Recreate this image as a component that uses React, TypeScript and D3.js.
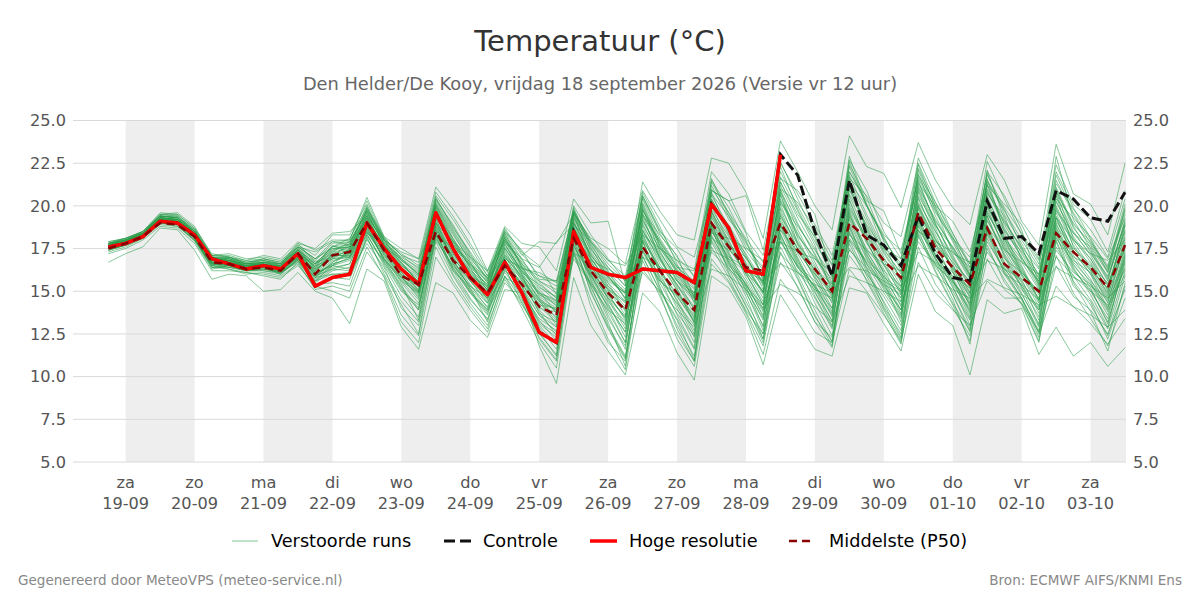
import React from "react";
import * as d3 from "d3";

// temperature forecast: 6-hourly steps starting 18 Sep 18 UTC
const W = 1200;
const H = 600;
const M = { top: 120.5, right: 1126, bottom: 462, left: 73 };

const START = Date.UTC(2026, 8, 18, 18);
const STEP_HOURS = 6;

const DAY_NAMES = ["za", "zo", "ma", "di", "wo", "do", "vr", "za", "zo", "ma", "di", "wo", "do", "vr", "za"];
const DAY_LABELS = ["19-09", "20-09", "21-09", "22-09", "23-09", "24-09", "25-09", "26-09", "27-09", "28-09", "29-09", "30-09", "01-10", "02-10", "03-10"];
const WEEKEND_LIKE_BANDS = [0, 2, 4, 6, 8, 10, 12, 14]; // index into the day list
const Y_TICKS = [5, 7.5, 10, 12.5, 15, 17.5, 20, 22.5, 25];

const hiRes = [
  17.6, 17.8, 18.2, 19.1, 19.0, 18.3, 16.9, 16.6, 16.3, 16.5, 16.3, 17.2, 15.3, 15.8, 16.0,
  19.0, 17.5, 16.3, 15.4, 19.6, 17.5, 15.8, 14.8, 16.7, 14.9, 12.6, 12.0, 18.5, 16.4, 16.0,
  15.8, 16.3, 16.2, 16.1, 15.5, 20.1, 18.7, 16.2, 16.0, 23.0,
];
const control = [
  17.6, 17.8, 18.2, 19.1, 19.0, 18.3, 16.9, 16.6, 16.3, 16.5, 16.3, 17.2, 15.3, 15.8, 16.0,
  19.0, 17.5, 16.3, 15.4, 19.6, 17.5, 15.8, 14.8, 16.7, 14.9, 12.6, 12.0, 18.5, 16.4, 16.0,
  15.8, 16.3, 16.2, 16.1, 15.5, 20.1, 18.7, 16.2, 16.0, 23.0,
  21.8, 18.5, 15.9, 21.5, 18.3, 17.7, 16.5, 19.4, 17.2, 15.8, 15.6, 20.3, 18.1, 18.2, 17.2,
  20.9, 20.4, 19.3, 19.1, 20.8,
];
const p50 = [
  17.5, 17.8, 18.2, 19.0, 18.9, 18.2, 16.7, 16.6, 16.3, 16.4, 16.2, 17.2, 16.0, 17.1, 17.3,
  19.0, 17.4, 15.9, 15.4, 18.5, 16.8, 15.8, 14.9, 16.5, 15.4, 14.1, 13.6, 18.1, 16.2, 14.9,
  13.9, 17.6, 16.2, 14.9, 13.9, 19.0, 17.6, 16.4, 16.2, 19.0,
  17.4, 16.3, 15.0, 19.0, 18.1, 16.8, 15.8, 19.6, 17.5, 16.4, 15.4, 18.7, 16.6, 15.8, 15.0,
  18.4, 17.3, 16.4, 15.2, 17.7,
];

const members: number[][] = [
  [17.9, 18.1, 18.5, 19.5, 19.6, 18.8, 17.1, 17.2, 16.9, 17.0, 16.8, 17.6, 17.3, 17.9, 18.0, 20.5, 18.2, 17.5, 16.9, 21.1, 19.8, 18.3, 16.2, 18.8, 17.8, 17.6, 16.2, 20.4, 19.0, 19.1, 15.4, 21.4, 19.7, 18.3, 18.0, 22.8, 22.5, 20.8, 18.1, 23.8, 22.0, 20.0, 18.6, 24.1, 22.3, 21.9, 19.9, 23.7, 21.5, 19.9, 18.9, 23.0, 21.5, 19.1, 17.7, 23.6, 20.7, 20.1, 18.3, 22.5],
  [16.7, 17.2, 17.6, 18.7, 18.6, 17.4, 15.7, 16.0, 15.9, 15.0, 15.1, 16.1, 15.0, 14.6, 13.1, 16.3, 15.6, 12.9, 11.6, 15.5, 14.9, 13.3, 12.3, 15.1, 14.9, 11.8, 9.6, 15.8, 13.0, 11.5, 10.1, 14.9, 13.8, 11.4, 9.8, 15.9, 15.2, 13.5, 10.7, 14.8, 13.2, 11.6, 11.2, 15.2, 14.9, 13.1, 11.5, 16.0, 13.8, 13.0, 10.1, 14.5, 13.7, 14.0, 11.3, 12.9, 11.2, 12.0, 10.6, 11.7],
  [17.8, 18.0, 18.4, 19.4, 19.3, 18.5, 17.0, 16.9, 16.6, 16.7, 16.4, 17.5, 16.6, 17.6, 17.7, 19.8, 17.9, 16.8, 16.0, 20.3, 18.6, 17.0, 15.6, 18.2, 16.5, 14.8, 14.2, 19.9, 17.5, 16.0, 14.9, 20.5, 18.4, 16.8, 15.4, 21.0, 19.6, 17.6, 16.4, 22.0, 20.0, 18.1, 15.8, 22.7, 20.9, 18.5, 16.9, 22.2, 20.0, 18.0, 16.2, 21.9, 19.5, 17.8, 15.9, 21.8, 19.6, 18.0, 16.1, 19.8],
  [17.7, 18.0, 18.3, 19.3, 19.2, 18.4, 16.9, 16.8, 16.5, 16.6, 16.3, 17.3, 15.9, 16.7, 17.2, 19.4, 17.5, 15.9, 14.6, 19.7, 17.6, 16.1, 14.9, 17.6, 15.9, 13.7, 13.2, 19.2, 16.6, 14.5, 12.8, 19.3, 17.0, 15.2, 13.1, 20.2, 18.3, 16.1, 14.2, 20.4, 18.4, 16.5, 14.6, 21.0, 18.8, 17.0, 15.3, 21.4, 19.0, 16.8, 14.9, 20.6, 18.2, 16.5, 14.5, 20.3, 18.2, 16.9, 15.0, 18.4],
  [17.5, 17.8, 18.2, 19.1, 19.0, 18.1, 16.5, 16.4, 16.2, 16.2, 16.0, 16.9, 15.5, 16.2, 16.4, 18.6, 16.9, 15.2, 13.9, 18.9, 16.9, 15.1, 13.9, 16.9, 15.2, 12.9, 11.6, 18.4, 15.7, 13.6, 11.6, 18.4, 16.1, 14.0, 12.0, 19.1, 17.2, 15.0, 12.7, 19.0, 16.9, 14.7, 12.9, 19.5, 17.2, 15.2, 13.6, 20.0, 17.8, 15.6, 13.5, 19.4, 17.0, 15.2, 13.0, 19.0, 16.6, 15.2, 13.1, 16.8],
  [17.6, 17.9, 18.4, 19.2, 19.1, 18.2, 16.7, 16.7, 16.4, 16.5, 16.5, 17.1, 16.2, 17.2, 17.4, 19.2, 17.6, 16.2, 15.2, 19.2, 17.2, 15.7, 14.6, 17.2, 15.6, 14.1, 13.2, 18.7, 16.3, 14.8, 13.4, 18.8, 16.6, 15.1, 13.4, 19.4, 17.6, 16.0, 14.2, 19.8, 17.4, 15.9, 14.0, 20.1, 17.8, 16.3, 14.4, 20.5, 18.1, 16.4, 14.3, 19.7, 17.6, 15.9, 14.1, 19.6, 17.3, 16.0, 14.0, 17.5],
  [17.4, 17.7, 18.1, 18.9, 18.8, 18.0, 16.4, 16.3, 16.0, 16.1, 15.9, 16.6, 15.2, 15.8, 15.7, 18.1, 16.2, 14.4, 13.2, 18.2, 16.2, 14.6, 13.3, 16.3, 14.6, 12.3, 11.0, 17.8, 15.0, 12.8, 11.0, 17.7, 15.2, 13.0, 11.2, 18.3, 16.3, 14.4, 12.5, 18.4, 16.0, 13.9, 12.0, 18.7, 16.4, 14.3, 12.3, 19.2, 16.8, 14.8, 12.6, 18.3, 16.2, 14.6, 12.6, 18.0, 15.6, 14.2, 12.4, 15.9],
  [17.8, 18.1, 18.5, 19.5, 19.4, 18.6, 17.1, 17.0, 16.7, 16.8, 16.6, 17.7, 17.1, 18.3, 18.3, 20.1, 18.0, 17.2, 16.5, 20.6, 19.2, 17.6, 15.9, 18.5, 17.1, 17.9, 17.8, 19.5, 18.1, 17.5, 16.6, 20.9, 19.2, 17.6, 17.0, 20.9, 20.3, 20.6, 17.4, 22.5, 20.7, 18.9, 17.1, 22.0, 20.3, 19.7, 17.2, 21.3, 20.0, 19.1, 17.3, 21.2, 20.1, 18.9, 16.9, 22.4, 20.1, 19.2, 17.3, 20.9],
  [17.6, 17.9, 18.3, 19.2, 19.1, 18.3, 16.8, 16.7, 16.4, 16.4, 16.2, 17.2, 16.1, 16.9, 17.0, 18.9, 17.1, 15.6, 14.5, 18.6, 16.8, 15.4, 14.0, 16.6, 14.9, 13.4, 12.7, 17.9, 15.9, 14.3, 12.3, 18.1, 16.2, 14.5, 12.7, 18.8, 16.9, 15.4, 13.6, 18.9, 16.7, 15.2, 13.2, 18.4, 16.6, 14.9, 13.4, 19.0, 16.9, 15.3, 13.0, 18.9, 16.6, 14.9, 12.9, 18.5, 16.3, 15.0, 13.4, 17.1],
  [17.7, 18.0, 18.4, 19.4, 19.3, 18.5, 16.8, 16.9, 16.5, 16.7, 16.5, 17.6, 16.9, 17.5, 17.6, 19.6, 17.7, 16.5, 15.7, 20.0, 18.0, 16.5, 15.3, 18.0, 16.1, 14.5, 13.9, 19.5, 17.0, 15.3, 14.3, 19.8, 17.8, 16.0, 14.6, 20.6, 18.8, 16.9, 15.4, 21.2, 19.0, 17.1, 15.4, 21.8, 19.5, 17.5, 16.0, 21.9, 19.4, 17.4, 15.7, 21.2, 18.9, 17.2, 15.5, 21.0, 18.8, 17.3, 15.6, 19.2],
  [17.2, 17.5, 18.0, 18.8, 18.7, 17.8, 16.2, 16.2, 16.1, 16.0, 15.8, 16.5, 15.3, 15.0, 14.6, 17.3, 15.9, 13.6, 12.4, 17.6, 15.6, 14.1, 12.8, 15.9, 14.0, 12.0, 10.5, 17.2, 14.5, 12.2, 10.4, 16.8, 14.7, 12.5, 10.9, 17.6, 15.8, 13.8, 11.8, 17.3, 15.2, 13.2, 11.7, 17.8, 15.6, 13.7, 11.9, 18.3, 16.1, 14.2, 12.1, 17.7, 15.5, 14.3, 12.1, 17.1, 14.9, 13.4, 11.8, 14.6],
  [17.8, 18.0, 18.5, 19.4, 19.4, 18.6, 17.0, 17.0, 16.7, 16.9, 16.7, 17.4, 16.6, 17.3, 17.5, 19.9, 18.0, 16.9, 16.2, 20.0, 18.3, 16.8, 15.5, 17.9, 16.6, 15.2, 14.7, 19.0, 17.2, 15.7, 14.9, 19.1, 17.5, 16.2, 14.8, 19.8, 18.2, 16.7, 15.6, 19.4, 17.8, 16.4, 15.0, 19.9, 18.2, 16.9, 15.6, 20.2, 18.5, 16.9, 15.5, 20.0, 18.0, 16.7, 15.1, 20.0, 18.0, 16.9, 15.4, 18.2],
  [17.5, 17.7, 18.2, 19.0, 18.9, 18.0, 16.6, 16.5, 16.2, 16.3, 16.1, 16.8, 15.8, 16.5, 16.8, 18.3, 16.6, 15.0, 14.2, 18.0, 16.5, 15.3, 14.3, 16.1, 14.8, 13.2, 12.5, 17.5, 15.4, 13.8, 12.0, 17.3, 15.5, 13.7, 12.4, 18.0, 16.4, 14.9, 13.0, 17.9, 16.2, 14.6, 12.8, 17.5, 16.0, 14.7, 13.0, 18.2, 16.4, 15.0, 13.3, 18.1, 16.1, 14.6, 12.7, 17.6, 15.9, 14.5, 12.8, 16.2],
  [17.6, 17.8, 18.3, 19.3, 19.2, 18.3, 16.8, 16.7, 16.5, 16.6, 16.2, 17.3, 16.4, 17.1, 17.3, 19.5, 17.4, 16.0, 14.9, 19.5, 17.9, 16.4, 14.7, 17.7, 16.2, 15.0, 13.7, 19.6, 16.9, 15.5, 13.8, 19.9, 17.3, 15.7, 13.9, 20.4, 18.6, 16.2, 14.6, 20.9, 18.1, 16.1, 14.3, 21.3, 18.6, 16.5, 14.9, 20.8, 18.5, 16.6, 14.6, 21.6, 18.4, 16.1, 14.8, 19.9, 17.9, 16.4, 14.9, 18.9],
  [17.3, 17.6, 18.1, 19.0, 18.9, 17.9, 16.3, 16.5, 16.2, 16.2, 16.1, 16.7, 15.6, 16.0, 16.1, 17.8, 16.4, 14.0, 13.0, 17.9, 15.9, 14.3, 13.0, 15.7, 14.2, 12.6, 11.2, 18.0, 14.9, 12.9, 11.1, 17.1, 15.0, 13.3, 11.0, 16.9, 15.6, 13.9, 12.5, 16.7, 15.3, 13.2, 12.3, 17.1, 15.7, 13.9, 12.0, 17.6, 15.4, 14.0, 12.4, 16.9, 15.1, 14.3, 12.6, 16.5, 14.7, 13.9, 12.5, 15.1],
  [17.7, 18.0, 18.4, 19.3, 19.2, 18.4, 16.9, 16.8, 16.6, 16.8, 16.5, 17.5, 16.8, 17.8, 17.9, 19.6, 17.8, 16.6, 15.9, 20.1, 18.4, 16.7, 15.0, 18.3, 16.8, 15.6, 15.1, 19.3, 17.4, 16.4, 15.3, 20.2, 17.9, 16.4, 15.6, 20.7, 19.4, 17.4, 16.0, 21.4, 19.3, 17.5, 15.5, 22.4, 20.5, 17.9, 15.5, 22.1, 19.7, 17.9, 15.9, 22.1, 19.2, 17.4, 16.0, 20.8, 19.0, 17.7, 16.2, 19.5],
  [17.6, 17.9, 18.2, 19.2, 19.0, 18.2, 16.6, 16.6, 16.3, 16.3, 16.2, 17.0, 15.7, 16.4, 16.6, 18.8, 16.8, 15.4, 13.3, 19.3, 16.7, 15.2, 14.1, 17.1, 15.3, 13.1, 12.3, 18.9, 16.0, 14.0, 12.0, 18.6, 16.4, 14.4, 12.5, 19.7, 17.3, 15.3, 12.9, 19.3, 17.0, 15.0, 13.0, 19.2, 17.0, 15.5, 13.2, 19.6, 17.4, 15.4, 13.9, 19.2, 17.2, 15.5, 13.3, 19.3, 16.9, 15.5, 13.8, 16.4],
  [17.8, 18.1, 18.4, 19.5, 19.5, 18.7, 17.2, 17.0, 16.8, 17.1, 16.9, 17.9, 17.4, 18.0, 18.0, 20.3, 18.1, 17.1, 16.7, 20.8, 19.4, 17.8, 16.1, 18.6, 17.3, 16.5, 14.8, 20.0, 18.3, 16.9, 15.6, 19.5, 18.0, 16.4, 16.2, 22.0, 20.7, 18.5, 17.1, 21.6, 20.9, 19.5, 15.9, 21.6, 20.6, 19.0, 18.2, 22.4, 19.9, 17.2, 16.7, 22.6, 20.4, 18.3, 16.6, 21.3, 19.8, 18.6, 17.0, 20.4],
  [17.5, 17.8, 18.3, 19.1, 19.0, 18.1, 16.6, 16.4, 16.3, 16.4, 16.0, 16.9, 15.4, 15.5, 15.3, 18.2, 16.0, 14.2, 12.5, 18.4, 16.3, 14.9, 13.6, 16.4, 14.3, 12.5, 11.3, 18.6, 15.2, 13.2, 10.6, 18.0, 15.3, 12.8, 10.9, 18.7, 16.1, 14.1, 12.2, 18.1, 15.8, 13.6, 11.8, 18.9, 16.3, 14.0, 12.2, 18.9, 16.6, 14.5, 11.9, 18.6, 16.0, 14.5, 12.3, 18.4, 15.5, 13.8, 11.5, 15.5],
  [17.7, 17.9, 18.4, 19.3, 19.2, 18.4, 16.8, 16.8, 16.4, 16.6, 16.4, 17.2, 16.3, 16.9, 17.1, 19.1, 17.3, 15.8, 15.0, 19.8, 17.3, 15.9, 14.8, 17.4, 15.7, 14.4, 13.5, 18.8, 16.4, 15.1, 13.6, 19.5, 16.9, 15.4, 14.1, 20.0, 17.9, 16.3, 15.0, 20.7, 17.8, 16.0, 14.8, 20.6, 18.3, 16.0, 14.1, 20.9, 18.7, 16.2, 14.1, 20.2, 17.8, 16.3, 14.4, 20.6, 17.6, 16.2, 14.3, 17.9],
  [17.6, 17.8, 18.3, 19.2, 19.1, 18.3, 16.7, 16.6, 16.5, 16.5, 16.3, 17.1, 16.0, 16.8, 17.0, 18.7, 17.2, 15.7, 14.8, 18.7, 17.0, 15.6, 14.4, 16.8, 15.4, 13.9, 12.9, 18.5, 16.1, 14.6, 13.0, 18.3, 16.3, 14.7, 13.3, 19.0, 17.1, 15.6, 13.9, 19.5, 17.2, 15.4, 13.5, 19.7, 17.4, 15.6, 13.7, 19.8, 17.6, 15.8, 13.8, 19.9, 17.4, 15.7, 13.7, 19.3, 17.1, 15.7, 13.9, 17.3],
  [17.9, 18.1, 18.5, 19.6, 19.5, 18.7, 17.1, 17.1, 16.8, 16.9, 16.7, 17.8, 16.7, 17.4, 17.8, 20.0, 17.7, 16.7, 15.5, 20.4, 18.9, 17.2, 15.7, 18.4, 16.4, 14.7, 14.0, 19.7, 17.7, 16.2, 14.5, 20.8, 18.8, 16.6, 14.3, 21.5, 19.9, 17.9, 15.7, 21.7, 19.7, 17.7, 14.9, 22.6, 20.0, 18.2, 16.2, 22.5, 20.2, 18.4, 16.4, 21.5, 19.8, 17.6, 15.3, 22.9, 19.2, 17.5, 15.8, 19.1],
  [17.4, 17.7, 18.1, 19.0, 18.8, 18.0, 16.5, 16.3, 16.1, 15.9, 15.7, 16.7, 15.1, 15.3, 15.0, 17.6, 15.8, 13.2, 12.0, 17.0, 15.4, 13.9, 12.6, 15.5, 14.4, 12.2, 10.9, 17.4, 14.1, 12.0, 10.9, 16.3, 14.9, 12.2, 10.6, 16.6, 15.5, 13.7, 11.3, 15.7, 14.3, 12.6, 12.0, 16.3, 15.0, 13.6, 12.1, 16.7, 14.9, 13.9, 13.0, 15.6, 14.6, 14.6, 12.5, 15.3, 14.1, 13.1, 11.9, 13.4],
  [17.6, 17.9, 18.3, 19.2, 19.1, 18.2, 16.7, 16.7, 16.4, 16.5, 16.4, 17.1, 16.5, 17.5, 17.6, 19.3, 17.5, 16.3, 15.6, 19.0, 17.1, 15.9, 15.0, 17.3, 15.8, 14.2, 14.0, 18.2, 16.7, 15.3, 14.1, 18.6, 16.8, 15.4, 13.7, 18.5, 17.0, 16.4, 14.8, 17.9, 16.5, 15.6, 14.4, 18.1, 16.8, 15.9, 14.6, 18.6, 17.1, 16.1, 14.7, 18.5, 16.9, 16.1, 15.0, 18.7, 16.8, 16.1, 14.6, 16.9],
  [17.5, 17.8, 18.2, 19.1, 19.0, 18.1, 16.6, 16.5, 16.3, 16.4, 16.1, 16.8, 15.6, 16.3, 16.6, 19.0, 16.7, 15.1, 13.9, 19.1, 16.6, 15.0, 13.7, 16.7, 15.0, 13.3, 12.1, 18.1, 15.6, 13.4, 11.8, 17.9, 15.8, 13.6, 11.7, 18.9, 16.7, 14.7, 12.2, 18.6, 16.5, 14.3, 12.4, 18.5, 16.1, 14.4, 12.7, 19.4, 17.0, 14.8, 12.8, 18.8, 16.4, 14.8, 13.1, 18.8, 16.4, 14.8, 12.9, 17.0],
  [17.7, 18.0, 18.3, 19.3, 19.2, 18.4, 16.9, 16.9, 16.6, 16.7, 16.6, 17.4, 16.4, 17.7, 17.2, 19.7, 17.6, 16.4, 15.3, 19.6, 18.1, 16.3, 15.2, 17.8, 16.0, 14.0, 13.8, 19.4, 16.8, 15.0, 14.0, 20.0, 17.6, 15.8, 14.5, 20.4, 18.5, 16.6, 14.9, 21.0, 18.6, 16.7, 14.7, 21.2, 18.7, 16.8, 15.0, 21.0, 18.9, 17.1, 15.3, 20.9, 18.7, 17.0, 15.2, 20.6, 18.5, 17.1, 15.3, 18.6],
  [17.6, 17.9, 18.3, 19.2, 19.0, 18.2, 16.7, 16.6, 16.4, 16.4, 16.3, 17.0, 15.9, 16.6, 16.9, 18.5, 17.0, 15.5, 14.3, 18.4, 16.4, 15.0, 13.8, 16.5, 15.1, 13.6, 12.6, 17.7, 15.8, 14.1, 12.6, 17.6, 15.9, 14.2, 12.3, 18.6, 16.6, 15.1, 13.4, 18.8, 16.6, 14.9, 13.3, 19.0, 16.9, 15.1, 13.5, 19.3, 17.2, 15.2, 13.4, 18.7, 16.7, 15.3, 13.5, 18.2, 16.2, 15.1, 13.2, 16.6],
  [17.8, 18.0, 18.4, 19.4, 19.3, 18.5, 17.0, 16.8, 16.6, 16.6, 16.4, 17.4, 16.7, 17.0, 17.8, 19.7, 18.0, 16.8, 16.1, 20.2, 18.5, 16.9, 15.8, 18.1, 16.3, 16.1, 15.5, 19.8, 17.8, 16.1, 15.1, 20.4, 18.1, 16.5, 15.2, 21.2, 19.2, 18.0, 15.8, 22.3, 19.8, 17.9, 16.1, 22.9, 20.1, 18.0, 16.6, 22.8, 20.6, 18.4, 16.6, 21.0, 19.1, 17.5, 15.7, 21.5, 19.5, 17.8, 16.4, 20.1],
  [17.5, 17.7, 18.2, 19.1, 18.9, 18.0, 16.4, 16.5, 16.2, 16.3, 16.2, 16.9, 15.9, 16.3, 16.2, 18.4, 16.5, 14.7, 13.5, 18.3, 16.0, 14.5, 13.4, 15.9, 14.5, 13.0, 11.9, 17.3, 15.3, 13.0, 11.2, 17.0, 15.1, 13.4, 11.6, 17.9, 16.0, 14.2, 12.0, 17.6, 15.7, 13.5, 12.1, 18.0, 15.9, 14.1, 12.5, 18.6, 16.2, 14.3, 12.7, 17.5, 15.7, 14.2, 12.0, 17.9, 15.3, 14.4, 12.2, 15.3],
  [17.7, 18.0, 18.3, 19.3, 19.2, 18.4, 16.8, 16.8, 16.5, 16.5, 16.4, 17.3, 16.2, 17.0, 17.4, 19.3, 17.3, 16.1, 15.1, 19.4, 17.5, 16.0, 14.5, 17.5, 16.0, 14.6, 13.4, 19.1, 16.2, 14.7, 13.5, 19.0, 16.9, 15.0, 13.2, 19.6, 18.0, 15.8, 14.0, 20.1, 17.7, 15.7, 13.8, 20.3, 18.0, 15.8, 14.2, 20.4, 18.3, 16.1, 14.2, 20.3, 18.1, 16.0, 14.3, 19.8, 17.7, 16.3, 14.7, 18.1],
  [17.6, 17.9, 18.3, 19.2, 19.1, 18.3, 16.8, 16.7, 16.4, 16.5, 16.3, 17.2, 16.6, 17.6, 17.9, 18.4, 17.8, 17.0, 16.4, 18.2, 17.6, 16.6, 15.8, 16.9, 16.4, 15.9, 15.6, 17.2, 16.8, 16.3, 15.7, 17.0, 16.4, 16.0, 15.5, 17.4, 16.9, 16.2, 15.6, 16.6, 16.1, 15.4, 14.9, 16.4, 16.2, 15.6, 15.0, 17.3, 16.7, 15.9, 15.2, 16.8, 16.3, 15.7, 15.1, 16.4, 15.8, 15.3, 14.6, 15.6],
  [17.7, 17.9, 18.4, 19.3, 19.2, 18.4, 16.9, 16.8, 16.5, 16.7, 16.6, 17.8, 17.5, 18.4, 18.5, 19.4, 18.0, 17.3, 16.9, 19.0, 17.9, 17.0, 16.2, 17.9, 16.9, 16.4, 17.9, 18.9, 17.9, 16.8, 16.5, 18.3, 17.5, 16.8, 16.3, 18.4, 18.1, 17.5, 16.8, 17.9, 17.3, 16.9, 16.1, 18.3, 17.4, 16.6, 16.2, 18.5, 17.9, 17.3, 16.4, 18.8, 17.4, 16.7, 16.0, 19.3, 18.0, 17.2, 16.8, 18.0],
  [17.6, 17.8, 18.3, 19.2, 19.0, 18.2, 16.6, 16.7, 16.3, 16.6, 16.2, 17.1, 16.3, 17.0, 17.2, 18.8, 17.6, 16.9, 16.0, 20.1, 18.1, 16.6, 15.5, 18.0, 16.7, 15.6, 14.9, 19.3, 17.9, 16.4, 15.3, 19.7, 18.3, 17.1, 14.6, 20.9, 20.3, 18.4, 15.6, 21.4, 19.5, 18.2, 16.6, 22.0, 20.1, 17.5, 16.9, 21.7, 19.8, 18.1, 16.6, 22.0, 20.6, 18.6, 15.4, 21.1, 18.9, 17.9, 16.5, 19.7],
  [17.5, 17.8, 18.2, 19.1, 19.0, 18.1, 16.5, 16.6, 16.3, 16.3, 16.1, 16.9, 15.8, 16.0, 15.9, 18.0, 16.8, 15.8, 14.9, 18.1, 16.4, 14.9, 13.9, 15.8, 15.3, 13.6, 12.9, 16.9, 15.4, 13.9, 13.1, 16.1, 15.0, 13.9, 12.9, 16.3, 15.9, 15.1, 14.0, 15.4, 14.9, 14.1, 13.2, 15.9, 15.5, 15.0, 14.4, 16.5, 15.9, 15.1, 14.6, 15.7, 15.2, 14.8, 14.2, 14.7, 14.1, 13.6, 12.9, 13.9],
  [17.8, 18.0, 18.4, 19.4, 19.3, 18.6, 16.9, 17.0, 16.6, 16.7, 16.5, 17.5, 16.3, 17.3, 17.9, 19.7, 18.0, 16.6, 15.5, 19.9, 17.7, 16.5, 15.6, 18.4, 16.9, 15.3, 14.4, 19.0, 17.1, 15.9, 14.6, 19.8, 17.6, 16.3, 14.9, 19.0, 17.7, 17.0, 15.4, 20.2, 18.8, 17.4, 15.9, 20.7, 18.9, 17.4, 16.1, 20.6, 18.8, 17.6, 15.9, 20.8, 19.0, 17.6, 16.3, 19.7, 18.4, 17.6, 16.1, 18.9],
  [17.6, 17.9, 18.2, 19.3, 19.1, 18.3, 16.7, 16.6, 16.5, 16.6, 16.4, 17.0, 15.8, 16.7, 17.3, 19.1, 17.2, 16.0, 15.3, 18.8, 16.9, 15.9, 15.3, 17.0, 15.9, 14.9, 14.5, 18.3, 16.9, 15.6, 14.9, 18.9, 17.1, 15.6, 14.9, 19.3, 17.5, 16.1, 15.0, 18.6, 17.3, 16.0, 15.1, 19.4, 17.5, 16.2, 15.3, 19.6, 17.8, 16.4, 15.1, 19.1, 17.5, 16.2, 14.9, 18.9, 17.3, 16.2, 15.2, 17.8],
  [17.7, 18.0, 18.4, 19.2, 19.2, 18.5, 16.9, 16.8, 16.6, 16.6, 16.3, 17.4, 16.1, 17.2, 17.0, 19.0, 17.7, 16.4, 15.0, 19.5, 17.4, 16.2, 15.4, 17.5, 16.3, 14.9, 14.4, 18.6, 16.5, 15.1, 14.4, 18.0, 16.4, 15.6, 14.4, 19.5, 17.7, 16.5, 14.9, 19.9, 17.9, 16.2, 14.9, 19.8, 18.0, 16.6, 14.8, 19.9, 17.7, 16.5, 14.9, 20.0, 17.9, 16.4, 14.5, 19.1, 17.5, 16.6, 14.8, 17.6],
  [17.4, 17.7, 18.2, 19.0, 18.9, 18.1, 16.4, 16.4, 16.2, 16.4, 16.0, 16.8, 15.3, 15.9, 15.9, 18.3, 16.7, 15.3, 14.0, 18.5, 16.2, 15.2, 13.2, 16.2, 15.5, 13.8, 12.4, 17.1, 15.5, 14.2, 12.6, 17.4, 15.6, 14.7, 13.2, 18.2, 16.5, 15.5, 13.5, 18.3, 16.4, 15.3, 14.0, 18.0, 16.7, 15.4, 13.9, 18.4, 16.5, 15.6, 14.0, 17.9, 16.3, 15.1, 13.9, 17.4, 16.1, 15.4, 14.1, 16.0],
  [17.6, 17.9, 18.3, 19.3, 19.1, 18.3, 16.8, 16.7, 16.4, 16.5, 16.4, 16.9, 16.1, 16.5, 17.5, 19.1, 17.4, 16.3, 15.4, 19.6, 17.5, 16.0, 15.1, 17.0, 15.8, 14.6, 13.8, 18.0, 16.5, 15.5, 14.4, 19.2, 17.2, 15.9, 14.7, 18.1, 17.4, 16.6, 15.3, 19.1, 17.5, 16.3, 15.4, 19.3, 17.3, 15.8, 15.1, 20.1, 18.0, 16.7, 15.6, 19.5, 18.1, 16.9, 15.6, 18.3, 17.0, 16.5, 15.5, 17.4],
  [17.8, 18.1, 18.5, 19.4, 19.3, 18.5, 17.0, 16.9, 16.7, 16.8, 16.6, 17.6, 16.9, 17.6, 18.1, 19.9, 18.2, 16.9, 15.9, 20.5, 18.7, 17.3, 15.9, 18.5, 17.4, 15.7, 15.6, 19.6, 18.0, 16.8, 15.9, 20.6, 18.5, 17.5, 15.8, 21.4, 19.6, 18.1, 16.7, 21.0, 20.2, 18.7, 16.8, 21.4, 20.0, 18.3, 17.4, 21.6, 19.6, 18.1, 17.0, 21.8, 19.9, 18.4, 16.8, 20.4, 19.3, 18.2, 16.9, 19.3],
  [17.5, 17.8, 18.2, 19.1, 19.0, 18.2, 16.6, 16.5, 16.4, 16.4, 16.2, 17.1, 16.0, 16.6, 16.9, 18.6, 17.1, 15.9, 15.4, 18.6, 17.0, 15.6, 14.6, 16.4, 15.6, 14.4, 13.9, 17.6, 16.0, 14.6, 13.5, 18.2, 16.1, 14.9, 13.6, 17.3, 16.3, 15.3, 14.2, 17.2, 16.1, 15.1, 14.6, 17.4, 16.4, 15.4, 14.8, 17.9, 16.6, 15.5, 14.5, 17.3, 16.0, 15.4, 14.5, 17.0, 15.9, 15.0, 14.2, 16.3],
  [17.7, 17.9, 18.3, 19.3, 19.2, 18.4, 16.9, 16.7, 16.5, 16.5, 16.5, 17.3, 16.4, 17.4, 17.6, 19.4, 17.9, 16.7, 15.5, 19.3, 17.8, 16.2, 15.1, 17.8, 16.1, 15.4, 14.6, 19.7, 17.3, 15.9, 14.6, 19.6, 17.4, 15.6, 14.6, 20.1, 18.9, 17.1, 15.1, 20.8, 18.9, 17.2, 15.2, 20.9, 19.1, 17.2, 15.7, 21.1, 19.2, 17.5, 15.8, 21.3, 18.6, 17.0, 15.4, 20.9, 18.7, 17.4, 15.7, 19.0],
  [17.6, 17.8, 18.3, 19.1, 19.0, 18.2, 16.7, 16.5, 16.3, 16.4, 16.1, 17.0, 15.6, 16.5, 16.3, 18.5, 16.9, 15.6, 14.9, 18.8, 16.6, 15.3, 14.6, 16.6, 15.4, 14.3, 13.3, 18.3, 15.9, 14.4, 13.2, 17.4, 15.6, 14.8, 13.5, 18.7, 16.7, 15.4, 13.8, 18.2, 16.4, 15.3, 13.7, 18.8, 16.6, 15.3, 13.9, 18.8, 16.9, 15.6, 14.3, 18.4, 16.5, 15.6, 13.9, 18.1, 16.7, 15.6, 14.4, 16.7],
  [17.7, 18.0, 18.3, 19.4, 19.3, 18.4, 16.9, 16.9, 16.4, 16.7, 16.4, 17.4, 16.6, 17.2, 17.6, 19.5, 17.8, 16.5, 15.8, 19.9, 17.9, 16.4, 15.4, 18.1, 16.6, 15.5, 14.6, 19.6, 17.6, 15.8, 15.0, 19.4, 17.9, 16.2, 15.1, 20.3, 18.5, 17.2, 15.5, 20.6, 18.3, 16.9, 15.7, 21.5, 19.3, 17.3, 15.8, 21.2, 19.1, 17.6, 16.0, 20.4, 18.5, 17.3, 15.8, 20.2, 18.4, 17.2, 15.9, 18.5],
  [17.6, 17.9, 18.3, 19.2, 19.1, 18.3, 16.8, 16.6, 16.4, 16.5, 16.3, 17.2, 16.2, 17.1, 17.1, 19.3, 17.5, 16.1, 15.0, 19.0, 17.2, 16.1, 15.1, 17.1, 16.2, 14.8, 14.3, 18.4, 16.6, 15.2, 13.9, 18.5, 17.0, 15.3, 14.0, 19.7, 17.8, 16.0, 14.4, 19.6, 17.5, 15.8, 14.5, 20.4, 17.9, 16.1, 14.6, 20.0, 18.0, 16.3, 14.8, 19.6, 17.7, 16.0, 14.6, 19.4, 17.4, 16.0, 14.5, 17.7],
  [17.8, 18.0, 18.4, 19.4, 19.4, 18.5, 17.0, 17.0, 16.6, 16.9, 16.6, 17.6, 16.9, 17.9, 17.7, 19.8, 18.1, 17.1, 16.3, 20.4, 18.8, 17.1, 15.7, 18.7, 17.2, 15.9, 15.3, 19.7, 17.9, 16.6, 15.6, 20.6, 18.6, 17.0, 15.9, 21.6, 19.4, 17.8, 16.2, 22.6, 20.4, 18.3, 16.5, 22.3, 20.0, 18.1, 16.4, 21.8, 20.2, 18.2, 16.0, 21.4, 19.7, 18.0, 16.4, 22.0, 19.9, 18.1, 16.3, 19.9],
  [17.6, 17.8, 18.2, 19.2, 19.0, 18.2, 16.6, 16.7, 16.3, 16.5, 16.2, 17.0, 16.0, 16.5, 17.0, 18.7, 16.9, 15.8, 14.7, 18.4, 16.7, 15.6, 14.3, 16.8, 15.7, 14.5, 13.0, 18.6, 16.2, 14.9, 13.3, 17.9, 15.7, 14.3, 13.0, 18.9, 16.8, 15.2, 13.3, 18.9, 16.8, 15.2, 13.6, 19.6, 17.1, 15.7, 13.9, 19.1, 17.1, 15.7, 13.7, 19.4, 17.1, 15.3, 14.0, 18.6, 16.5, 15.4, 13.6, 17.2],
  [17.7, 17.9, 18.4, 19.3, 19.2, 18.3, 16.8, 16.8, 16.5, 16.6, 16.5, 17.3, 16.5, 16.9, 17.5, 19.2, 17.7, 16.3, 15.6, 19.7, 17.7, 16.7, 15.2, 18.2, 16.4, 15.1, 14.1, 18.7, 17.1, 15.8, 14.8, 20.1, 17.7, 16.1, 14.7, 20.8, 18.4, 17.0, 15.5, 20.3, 18.2, 17.0, 15.2, 21.7, 18.4, 16.6, 15.2, 21.5, 18.9, 17.0, 15.2, 20.7, 19.4, 16.8, 15.6, 20.8, 18.1, 16.7, 15.1, 18.8],
];

const FONT = "'DejaVu Sans', sans-serif";
const GREEN = "#2a9d4a";
const TICK_SIZE = 16.2;

const x = d3
  .scaleUtc()
  .domain([Date.UTC(2026, 8, 18, 5, 40), Date.UTC(2026, 9, 3, 12, 20)])
  .range([M.left, M.right]);
const y = d3.scaleLinear().domain([5, 25]).range([M.bottom, M.top]);

const timeOf = (i: number) => d3.utcHour.offset(new Date(START), i * STEP_HOURS);
const dayOf = (i: number) => d3.utcDay.offset(new Date(Date.UTC(2026, 8, 19)), i);

const lineFn = d3
  .line<number>()
  .x((_, i) => x(timeOf(i)))
  .y((v) => y(v));

export default function App() {
  return (
    <svg
      width={W}
      height={H}
      viewBox={`0 0 ${W} ${H}`}
      style={{ position: "absolute", left: 0, top: 0, background: "#fff" }}
      fontFamily={FONT}
    >
      {/* day bands */}
      {WEEKEND_LIKE_BANDS.map((d) => (
        <rect
          key={d}
          x={x(dayOf(d))}
          y={M.top}
          width={Math.min(x(dayOf(d + 1)), M.right) - x(dayOf(d))}
          height={M.bottom - M.top}
          fill="#eeeeee"
        />
      ))}

      {/* horizontal grid + tick labels on both sides */}
      {Y_TICKS.map((t) => (
        <g key={t}>
          <line x1={M.left} x2={M.right} y1={y(t)} y2={y(t)} stroke="#d9d9d9" strokeWidth={1} />
          <text x={66} y={y(t)} dy="0.36em" textAnchor="end" fontSize={TICK_SIZE} fill="#555">
            {t.toFixed(1)}
          </text>
          <text x={1133} y={y(t)} dy="0.36em" textAnchor="start" fontSize={TICK_SIZE} fill="#555">
            {t.toFixed(1)}
          </text>
        </g>
      ))}

      {/* x labels: weekday + date */}
      {DAY_NAMES.map((name, i) => (
        <g key={i}>
          <text x={x(dayOf(i))} y={488} textAnchor="middle" fontSize={TICK_SIZE} fill="#555">
            {name}
          </text>
          <text x={x(dayOf(i))} y={509} textAnchor="middle" fontSize={TICK_SIZE} fill="#555">
            {DAY_LABELS[i]}
          </text>
        </g>
      ))}

      {/* ensemble members */}
      {members.map((m, i) => (
        <path key={i} d={lineFn(m) ?? ""} fill="none" stroke={GREEN} strokeWidth={1} strokeOpacity={0.55} />
      ))}

      <path d={lineFn(control) ?? ""} fill="none" stroke="#111" strokeWidth={3} strokeDasharray="10 4" />
      <path d={lineFn(hiRes) ?? ""} fill="none" stroke="#ff0000" strokeWidth={3.5} strokeLinejoin="round" />
      <path d={lineFn(p50) ?? ""} fill="none" stroke="#8b0000" strokeWidth={2.5} strokeDasharray="8 5" />

      {/* titles */}
      <text x={600} y={51} textAnchor="middle" fontSize={29} fill="#333">
        Temperatuur (°C)
      </text>
      <text x={600} y={90} textAnchor="middle" fontSize={17.8} fill="#666">
        Den Helder/De Kooy, vrijdag 18 september 2026 (Versie vr 12 uur)
      </text>

      {/* legend */}
      <g fontSize={17.7} fill="#000">
        <line x1={232} x2={258} y1={541} y2={541} stroke={GREEN} strokeWidth={1} strokeOpacity={0.6} />
        <text x={271} y={547}>Verstoorde runs</text>
        <line x1={444} x2={471} y1={541} y2={541} stroke="#111" strokeWidth={3} strokeDasharray="11 5" />
        <text x={483} y={547}>Controle</text>
        <line x1={590} x2={617} y1={541} y2={541} stroke="#ff0000" strokeWidth={3.5} />
        <text x={629} y={547}>Hoge resolutie</text>
        <line x1={789} x2={815} y1={541} y2={541} stroke="#8b0000" strokeWidth={2.5} strokeDasharray="8 5" />
        <text x={829} y={547}>Middelste (P50)</text>
      </g>

      {/* footer */}
      <text x={18} y={585} fontSize={13.55} fill="#888">
        Gegenereerd door MeteoVPS (meteo-service.nl)
      </text>
      <text x={1182} y={585} textAnchor="end" fontSize={13.55} fill="#888">
        Bron: ECMWF AIFS/KNMI Ens
      </text>
    </svg>
  );
}
